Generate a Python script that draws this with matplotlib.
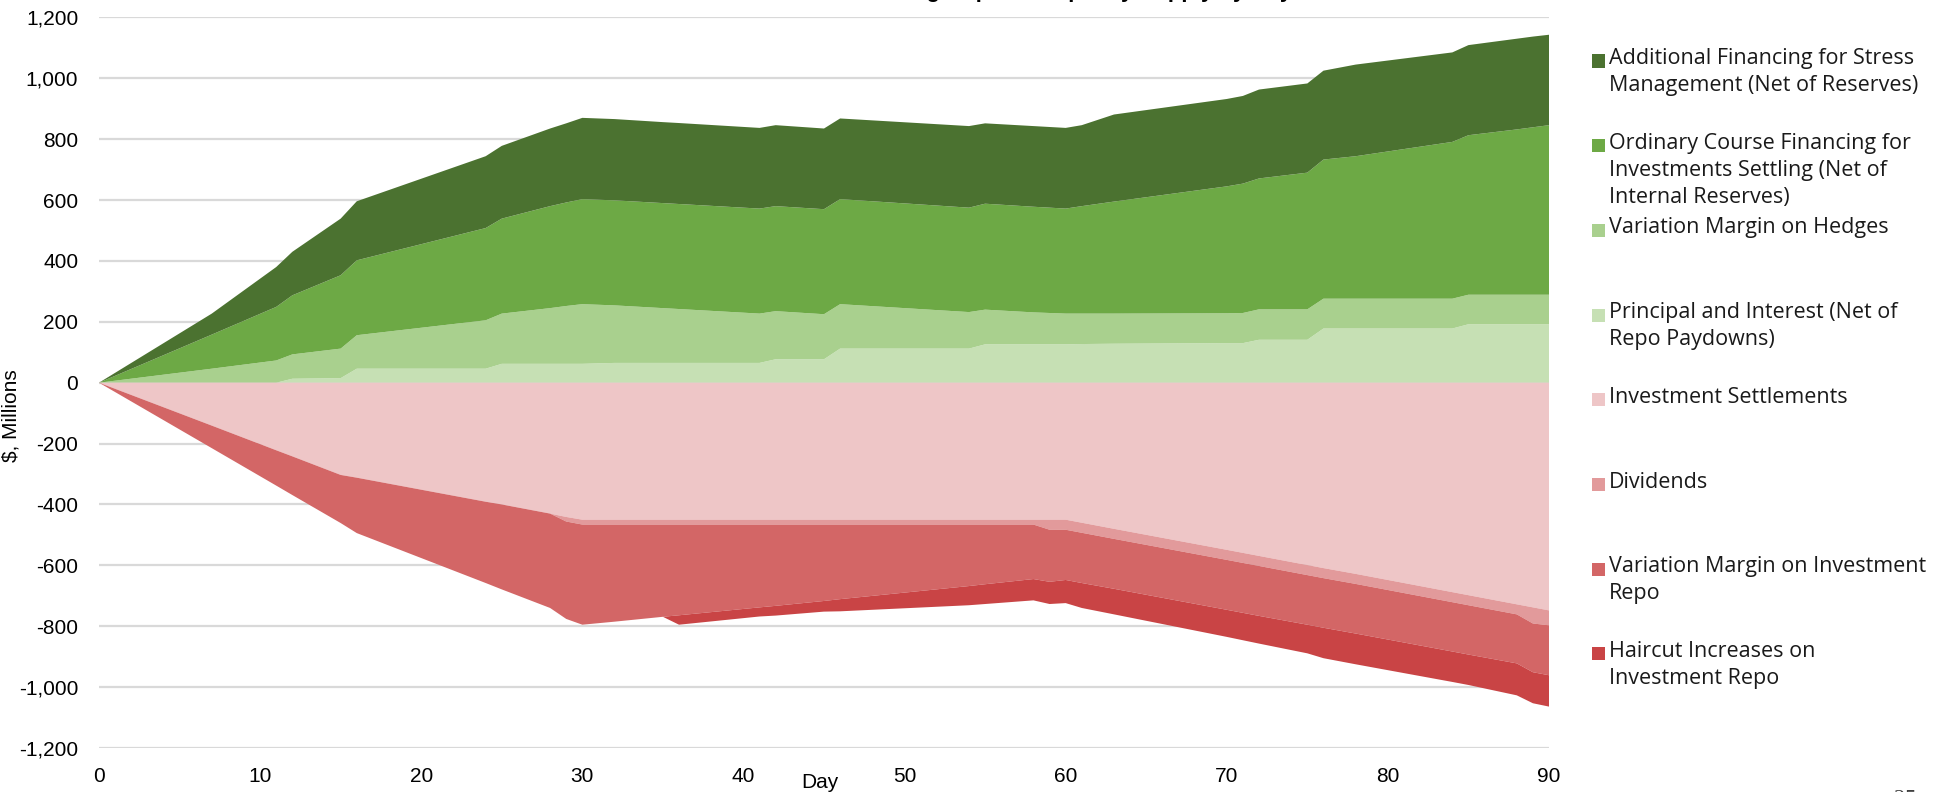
import numpy as np
import matplotlib
matplotlib.use("Agg")
import matplotlib.pyplot as plt
from matplotlib.patches import Rectangle

# ---------------- data ----------------
days = [0, 7, 11, 12, 15, 16, 24, 25, 28, 29, 30, 32, 35, 36, 41, 42, 45, 46,
        54, 55, 58, 59, 60, 61, 63, 70, 71, 72, 75, 76, 78, 84, 85, 88, 89, 90]

# positive (sources), stacked bottom -> top
principal_interest = [0, 0, 0, 13, 15, 46, 46, 62, 62, 62, 62, 65, 65, 65, 65, 77, 77, 112,
                      112, 126, 126, 126, 126, 127, 128, 130, 130, 141, 141, 178, 178, 178, 192, 192, 192, 192]
vm_hedges = [0, 46, 73, 80, 97, 110, 159, 165, 183, 190, 196, 189, 180, 177, 162, 158, 148, 146,
             120, 114, 105, 103, 101, 100, 99, 98, 99, 100, 100, 98, 98, 98, 97, 97, 97, 97]
ordinary_financing = [0, 112, 176, 194, 241, 246, 303, 312, 335, 340, 345, 345, 345, 345, 345, 345, 345, 345,
                      343, 348, 347, 346, 345, 353, 368, 417, 425, 430, 449, 457, 468, 515, 524, 543, 550, 557]
additional_financing = [0, 69, 131, 143, 186, 194, 236, 239, 255, 260, 267, 267, 266, 266, 265, 266, 265, 265,
                        268, 264, 265, 265, 265, 266, 286, 287, 288, 292, 293, 292, 301, 294, 296, 298, 298, 297]

# negative (uses), stacked top -> bottom
investment_settlements = [0, -141, -222, -242, -303, -312, -391, -400, -430, -441, -450, -450, -450, -450, -450, -450, -450, -450,
                          -450, -450, -450, -450, -450, -460, -480, -549, -559, -569, -599, -609, -628, -688, -698, -728, -738, -748]
dividends = [0, 0, 0, 0, 0, 0, 0, 0, 0, -15, -16, -16, -16, -16, -16, -16, -16, -16,
             -16, -16, -16, -33, -33, -33, -33, -33, -33, -33, -33, -33, -33, -33, -33, -33, -53, -49]
vm_investment_repo = [0, -74, -116, -127, -158, -182, -267, -279, -310, -320, -329, -319, -303, -298, -272, -267, -251, -245,
                      -202, -196, -179, -171, -165, -165, -164, -164, -164, -164, -163, -163, -163, -162, -162, -161, -160, -164]
haircut_increases = [0, 0, 0, 0, 0, 0, 0, 0, 0, 0, 0, 0, 0, -31, -30, -32, -35, -40,
                     -63, -65, -70, -73, -76, -82, -84, -89, -90, -91, -94, -100, -101, -100, -100, -105, -102, -103]

pos_labels = ["Principal and Interest (Net of\nRepo Paydowns)",
              "Variation Margin on Hedges",
              "Ordinary Course Financing for\nInvestments Settling (Net of\nInternal Reserves)",
              "Additional Financing for Stress\nManagement (Net of Reserves)"]
neg_labels = ["Investment Settlements", "Dividends",
              "Variation Margin on Investment\nRepo", "Haircut Increases on\nInvestment Repo"]
pos_colors = ["#C6E0B4", "#A9D08E", "#6DA945", "#4B7230"]
neg_colors = ["#EEC6C7", "#E29A9B", "#D36666", "#C94445"]

y_ticks = [-1200, -1000, -800, -600, -400, -200, 0, 200, 400, 600, 800, 1000, 1200]
x_ticks = [0, 10, 20, 30, 40, 50, 60, 70, 80, 90]

# ---------------- figure ----------------
plt.rcParams['font.family'] = ['Liberation Sans', 'DejaVu Sans']
fig = plt.figure(figsize=(19.46, 7.92), dpi=100)
ax = fig.add_axes([99/1946, 1 - 748/792, (1549 - 99)/1946, (748 - 17.4)/792])

ax.stackplot(days, principal_interest, vm_hedges, ordinary_financing, additional_financing,
             colors=pos_colors, linewidth=0)
ax.stackplot(days, investment_settlements, dividends, vm_investment_repo, haircut_increases,
             colors=neg_colors, linewidth=0)

ax.set_xlim(0, 90)
ax.set_ylim(-1200, 1200)
ax.set_yticks(y_ticks)
ax.set_yticklabels([f"{v:,}" for v in y_ticks])
ax.set_xticks(x_ticks)
ax.set_axisbelow(True)
ax.yaxis.grid(True, color="#D9D9D9", linewidth=1.6)
ax.xaxis.grid(False)
for s in ax.spines.values():
    s.set_visible(False)
ax.tick_params(axis='both', length=0, labelsize=15, colors="#000000")
ax.tick_params(axis='y', pad=15)
ax.tick_params(axis='x', pad=14)

ax.set_ylabel("$, Millions", fontsize=15)
ax.yaxis.set_label_coords(-0.054, 0.455)
fig.text(820/1946, 1 - 782/792, "Day", fontsize=15, ha='center', va='center')

# title (cropped at the top of the slide)
fig.text(0.519, 1 + 3/792, "Cumulative Funding Gap and Liquidity Supply by Day",
         fontsize=16, fontweight='bold', ha='center', va='baseline')

# page number (cropped at the bottom)
fig.text(1905/1946, -8/792, "25", fontsize=16, family=['Liberation Serif'],
         ha='center', va='center', color="#404040")

# ---------------- legend ----------------
leg_labels = [pos_labels[3], pos_labels[2], pos_labels[1], pos_labels[0]] + neg_labels
leg_colors = [pos_colors[3], pos_colors[2], pos_colors[1], pos_colors[0]] + neg_colors
y0 = 61
step = 84.7
for i, (lab, col) in enumerate(zip(leg_labels, leg_colors)):
    yc = y0 + i * step
    fig.patches.append(Rectangle(((1592)/1946, 1 - (yc + 6.5)/792), 13/1946, 13/792,
                                 transform=fig.transFigure, facecolor=col, edgecolor='none'))
    fig.text(1609/1946, 1 - (yc - 13)/792, lab, fontsize=15.5, family=['Open Sans', 'DejaVu Sans'],
             ha='left', va='top', linespacing=1.38, color="#1A1A1A")

fig.savefig("out.png", dpi=100)
